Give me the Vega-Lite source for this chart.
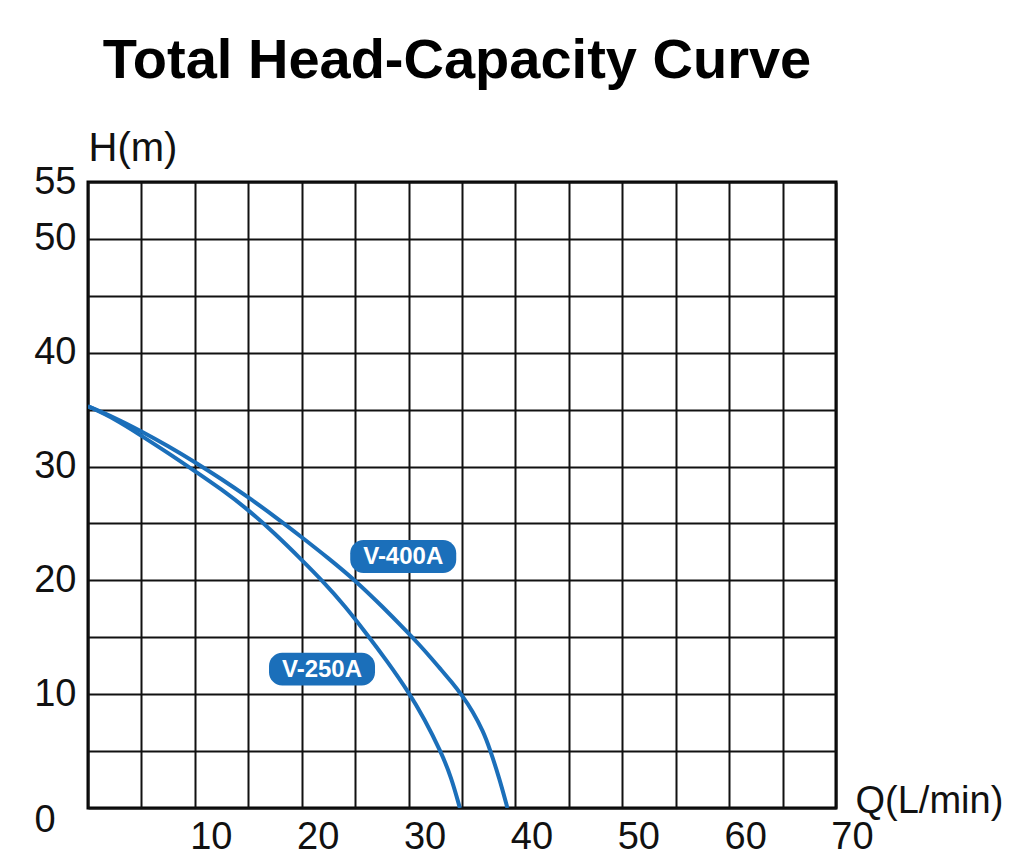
{
  "$schema": "https://vega.github.io/schema/vega-lite/v6.json",
  "autosize": {"type": "none"},
  "padding": {"left": 88, "top": 182, "right": 175, "bottom": 45},
  "width": 748,
  "height": 626,
  "background": "white",
  "title": {
    "text": "Total Head-Capacity Curve",
    "font": "Liberation Sans",
    "fontWeight": "bold",
    "fontSize": 56,
    "color": "#000000",
    "anchor": "middle",
    "dx": -5,
    "offset": 38
  },
  "config": {
    "view": {"stroke": "#000000", "strokeWidth": 3},
    "axis": {
      "grid": true,
      "gridColor": "#111111",
      "gridWidth": 2,
      "gridOpacity": 1,
      "ticks": false,
      "domain": false,
      "labelFont": "Liberation Sans",
      "labelFontSize": 38,
      "labelColor": "#111111",
      "labelFlush": false,
      "labelOverlap": false,
      "titleFont": "Liberation Sans",
      "titleFontSize": 38,
      "titleFontWeight": "normal",
      "titleColor": "#111111"
    }
  },
  "datasets": {
    "curves": [
      {"model": "V-400A", "Q": 0, "H": 35.3},
      {"model": "V-400A", "Q": 2.5, "H": 34.3},
      {"model": "V-400A", "Q": 5, "H": 33.1},
      {"model": "V-400A", "Q": 7.5, "H": 31.8},
      {"model": "V-400A", "Q": 10, "H": 30.4},
      {"model": "V-400A", "Q": 12.5, "H": 28.9},
      {"model": "V-400A", "Q": 15, "H": 27.3},
      {"model": "V-400A", "Q": 17.5, "H": 25.6},
      {"model": "V-400A", "Q": 20, "H": 23.8},
      {"model": "V-400A", "Q": 22.5, "H": 21.95},
      {"model": "V-400A", "Q": 25, "H": 20},
      {"model": "V-400A", "Q": 27.5, "H": 17.75},
      {"model": "V-400A", "Q": 30, "H": 15.35},
      {"model": "V-400A", "Q": 31, "H": 14.35},
      {"model": "V-400A", "Q": 32, "H": 13.3},
      {"model": "V-400A", "Q": 33, "H": 12.2},
      {"model": "V-400A", "Q": 34, "H": 11.1},
      {"model": "V-400A", "Q": 35, "H": 9.9},
      {"model": "V-400A", "Q": 36, "H": 8.5},
      {"model": "V-400A", "Q": 37, "H": 6.7},
      {"model": "V-400A", "Q": 37.6, "H": 5.2},
      {"model": "V-400A", "Q": 38.5, "H": 2.6},
      {"model": "V-400A", "Q": 39.25, "H": 0},
      {"model": "V-250A", "Q": 0, "H": 35.3},
      {"model": "V-250A", "Q": 2.5, "H": 34.2},
      {"model": "V-250A", "Q": 5, "H": 32.7},
      {"model": "V-250A", "Q": 7.5, "H": 31.2},
      {"model": "V-250A", "Q": 10, "H": 29.6},
      {"model": "V-250A", "Q": 12.5, "H": 28.0},
      {"model": "V-250A", "Q": 15, "H": 26.2},
      {"model": "V-250A", "Q": 17.5, "H": 24.1},
      {"model": "V-250A", "Q": 20, "H": 21.8},
      {"model": "V-250A", "Q": 22, "H": 19.9},
      {"model": "V-250A", "Q": 24, "H": 17.8},
      {"model": "V-250A", "Q": 26, "H": 15.4},
      {"model": "V-250A", "Q": 28, "H": 12.9},
      {"model": "V-250A", "Q": 30, "H": 10.2},
      {"model": "V-250A", "Q": 31.5, "H": 7.8},
      {"model": "V-250A", "Q": 33, "H": 5},
      {"model": "V-250A", "Q": 34, "H": 2.7},
      {"model": "V-250A", "Q": 34.8, "H": 0}
    ],
    "badges": [
      {"model": "V-400A", "Q": 29.5, "H": 22.1},
      {"model": "V-250A", "Q": 21.9, "H": 12.2}
    ],
    "zero": [{"Q": 0, "H": 0, "t": "0"}]
  },
  "layer": [
    {
      "data": {"name": "curves"},
      "mark": {"type": "line", "interpolate": "basis", "strokeWidth": 4, "color": "#1b6fba", "clip": true},
      "encoding": {
        "x": {
          "field": "Q", "type": "quantitative",
          "scale": {"domain": [0, 70], "nice": false},
          "axis": {
            "values": [0, 5, 10, 15, 20, 25, 30, 35, 40, 45, 50, 55, 60, 65, 70],
            "labelExpr": "datum.value % 10 == 0 && datum.value > 0 ? datum.label : ''",
            "labelPadding": 10,
            "labelOffset": 16,
            "title": "Q(L/min)",
            "titleX": 767,
            "titleY": 4,
            "titleAlign": "left",
            "titleBaseline": "alphabetic",
            "titleAngle": 0
          }
        },
        "y": {
          "field": "H", "type": "quantitative",
          "scale": {"domain": [0, 55], "nice": false},
          "axis": {
            "values": [0, 5, 10, 15, 20, 25, 30, 35, 40, 45, 50, 55],
            "labelExpr": "(datum.value % 10 == 0 && datum.value > 0) || datum.value == 55 ? datum.label : ''",
            "labelPadding": 12,
            "title": "H(m)",
            "titleFontSize": 40,
            "titleAngle": 0,
            "titleX": 0,
            "titleY": -22,
            "titleAlign": "left",
            "titleBaseline": "alphabetic"
          }
        },
        "detail": {"field": "model"}
      }
    },
    {
      "data": {"name": "badges"},
      "mark": {
        "type": "point",
        "filled": true,
        "opacity": 1,
        "color": "#1b6fba",
        "size": 11236,
        "shape": "M-0.75,-0.31 L0.75,-0.31 A0.25,0.25 0 0 1 1,-0.06 L1,0.06 A0.25,0.25 0 0 1 0.75,0.31 L-0.75,0.31 A0.25,0.25 0 0 1 -1,0.06 L-1,-0.06 A0.25,0.25 0 0 1 -0.75,-0.31 Z"
      },
      "encoding": {
        "x": {"field": "Q", "type": "quantitative"},
        "y": {"field": "H", "type": "quantitative"}
      }
    },
    {
      "data": {"name": "badges"},
      "mark": {
        "type": "text",
        "color": "white",
        "font": "Liberation Sans",
        "fontWeight": "bold",
        "fontSize": 24,
        "align": "center",
        "baseline": "middle",
        "dy": 1
      },
      "encoding": {
        "x": {"field": "Q", "type": "quantitative"},
        "y": {"field": "H", "type": "quantitative"},
        "text": {"field": "model"}
      }
    },
    {
      "data": {"name": "zero"},
      "mark": {
        "type": "text",
        "color": "#111111",
        "font": "Liberation Sans",
        "fontSize": 38,
        "align": "center",
        "baseline": "middle",
        "dx": -43,
        "dy": 13
      },
      "encoding": {
        "x": {"field": "Q", "type": "quantitative"},
        "y": {"field": "H", "type": "quantitative"},
        "text": {"field": "t"}
      }
    }
  ]
}
